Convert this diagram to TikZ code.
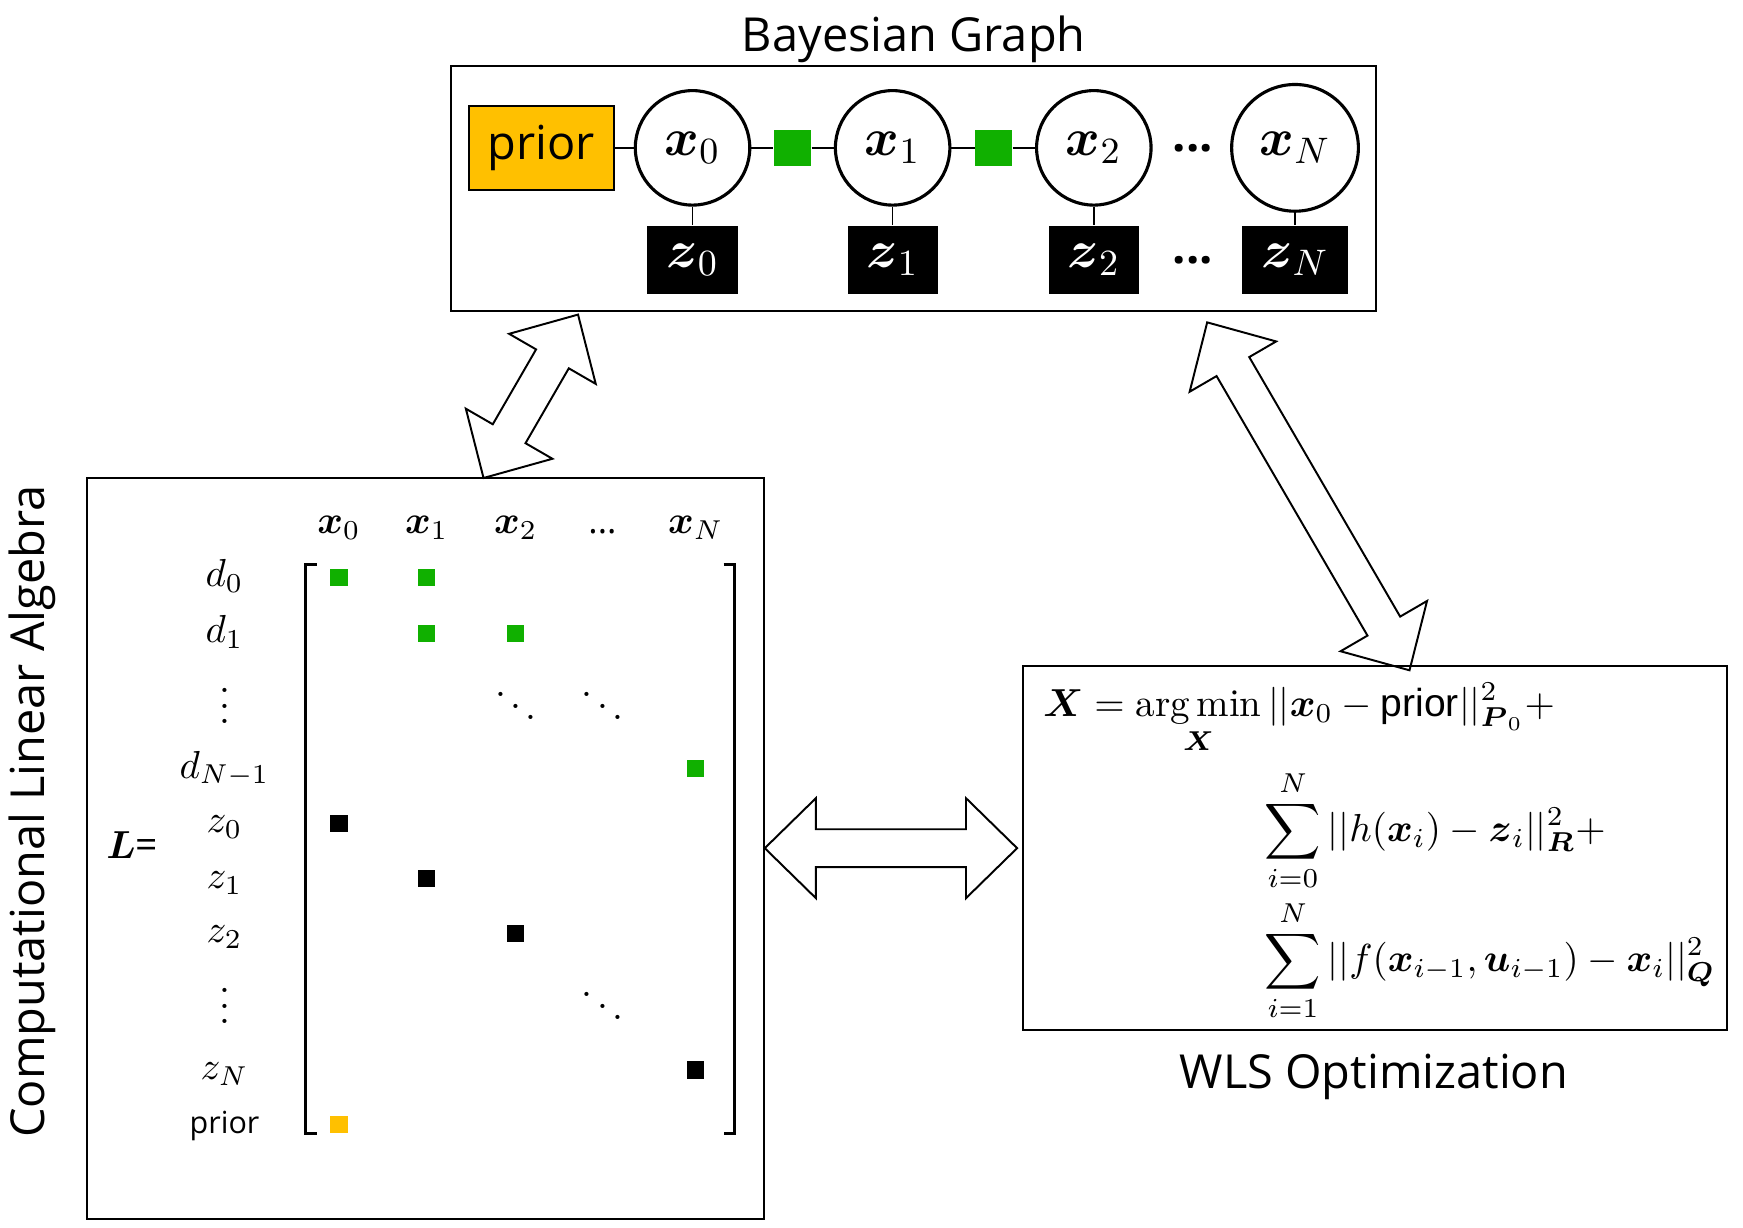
\RequirePackage{fix-cm}
\documentclass[tikz,border=0pt]{standalone}
\usepackage{amsmath}
\usepackage{amssymb}
\usepackage{fontspec}
\setsansfont{Open Sans}
\newfontfamily\eqsans{Liberation Sans}
\usepackage{xcolor}
\usetikzlibrary{calc}
\definecolor{factgreen}{RGB}{16,176,0}
\definecolor{priorgold}{RGB}{255,192,0}
\tikzset{
  panel/.style={draw, line width=0.5pt, inner sep=0pt},
  title/.style={font=\sffamily\fontsize{12}{14}\selectfont},
  var/.style={circle, draw, fill=white, line width=0.8pt, minimum size=1.03cm, inner sep=0pt, font=\fontsize{13.5}{16}\selectfont},
  meas/.style={fill=black, text=white, minimum height=0.61cm, inner xsep=0.17cm, inner ysep=0pt, font=\fontsize{13.5}{16}\selectfont},
  fac/.style={fill=factgreen, minimum size=0.33cm, inner sep=0pt},
  priorbox/.style={draw, line width=0.5pt, fill=priorgold, minimum width=1.3cm, minimum height=0.75cm, inner sep=0pt, font=\sffamily\fontsize{12}{14}\selectfont},
  gdots/.style={font=\sffamily\bfseries\fontsize{12}{14}\selectfont, inner sep=0pt},
  edge/.style={line width=0.4pt},
  lbl/.style={anchor=base, inner sep=0pt, font=\fontsize{10}{12}\selectfont},
  entry/.style={minimum size=0.155cm, inner sep=0pt, anchor=south},
  bracket/.style={line width=0.8pt},
  eqn/.style={anchor=base west, inner sep=0pt, font=\fontsize{10}{12}\selectfont},
  blockarrow/.style={draw, line width=0.5pt, line join=miter},
}

\begin{document}
\begin{tikzpicture}[x=0.1mm, y=-0.1mm]

  \useasboundingbox (0,0) rectangle (1568,1104);

  \def\headlen{0.46cm}
  \def\headwd{0.45cm}
  \def\shaftwd{0.17cm}
  \def\blockarrow#1#2{%
    \draw[blockarrow] (#1)
      -- ($(#1)!\headlen!(#2)!\headwd!90:(#2)$)
      -- ($(#1)!\headlen!(#2)!\shaftwd!90:(#2)$)
      -- ($(#2)!\headlen!(#1)!\shaftwd!-90:(#1)$)
      -- ($(#2)!\headlen!(#1)!\headwd!-90:(#1)$)
      -- (#2)
      -- ($(#2)!\headlen!(#1)!\headwd!90:(#1)$)
      -- ($(#2)!\headlen!(#1)!\shaftwd!90:(#1)$)
      -- ($(#1)!\headlen!(#2)!\shaftwd!-90:(#2)$)
      -- ($(#1)!\headlen!(#2)!\headwd!-90:(#2)$)
      -- cycle;}

  % panels and titles
  \node[panel, minimum width=8.32cm, minimum height=2.21cm] (bayes) at (822,169.5) {};
  \node[panel, minimum width=6.09cm, minimum height=6.67cm] (cla) at (382.5,763.5) {};
  \node[panel, minimum width=6.34cm, minimum height=3.28cm] (wls) at (1237,763) {};

  \node[title, anchor=base] (tbayes) at (822,46) {Bayesian Graph};
  \node[title, anchor=base] (twls) at (1236,979) {WLS Optimization};
  \node[title, anchor=base, rotate=90] (tcla) at (40,730) {Computational Linear Algebra};

  % Bayesian graph
  \node[priorbox] (prior) at (487,133) {prior};
  \node[var] (x0) at (623,133) {$\boldsymbol{x}_0$};
  \node[var] (x1) at (803,133) {$\boldsymbol{x}_1$};
  \node[var] (x2) at (984,133) {$\boldsymbol{x}_2$};
  \node[var, minimum size=1.14cm] (xN) at (1165,133) {$\boldsymbol{x}_N$};
  \node[fac] (f01) at (713,133) {};
  \node[fac] (f12) at (894,133) {};
  \node[gdots] (xdots) at (1073,133) {...};

  \node[meas] (z0) at (623,234) {$\boldsymbol{z}_0$};
  \node[meas] (z1) at (803,234) {$\boldsymbol{z}_1$};
  \node[meas] (z2) at (984,234) {$\boldsymbol{z}_2$};
  \node[meas] (zN) at (1165,234) {$\boldsymbol{z}_N$};
  \node[gdots] (zdots) at (1073,234) {...};

  \draw[edge] (prior) -- (x0) -- (f01) -- (x1) -- (f12) -- (x2);
  \draw[edge] (x0) -- (z0);
  \draw[edge] (x1) -- (z1);
  \draw[edge] (x2) -- (z2);
  \draw[edge] (xN) -- (zN);

  % linear system
  \node[lbl] (cx0) at (305,480) {$\boldsymbol{x}_0$};
  \node[lbl] (cx1) at (384,480) {$\boldsymbol{x}_1$};
  \node[lbl] (cx2) at (464,480) {$\boldsymbol{x}_2$};
  \node[lbl, font=\sffamily\fontsize{9}{11}\selectfont] (cdots) at (542,480) {...};
  \node[lbl] (cxN) at (626,480) {$\boldsymbol{x}_N$};

  \node[lbl] (rd0) at (202,528) {$d_0$};
  \node[lbl] (rd1) at (202,578) {$d_1$};
  \node[lbl] (rvd1) at (202,651) {$\vdots$};
  \node[lbl] (rdN) at (202,700) {$d_{N-1}$};
  \node[lbl] (rz0) at (202,749) {$z_0$};
  \node[lbl] (rz1) at (202,799) {$z_1$};
  \node[lbl] (rz2) at (202,848) {$z_2$};
  \node[lbl] (rvd2) at (202,921) {$\vdots$};
  \node[lbl] (rzN) at (202,971) {$z_N$};
  \node[lbl, font=\sffamily\fontsize{7.8}{9}\selectfont] (rprior) at (202,1020) {prior};
  \node[lbl, anchor=base west] (lhs) at (95,772) {$\boldsymbol{L}$\textsf{=}};

  \draw[bracket] (285,508) -- (275,508) -- (275,1020) -- (285,1020);
  \draw[bracket] (651,508) -- (661,508) -- (661,1020) -- (651,1020);

  \node[entry, fill=factgreen] (ed0a) at (305,528) {};
  \node[entry, fill=factgreen] (ed0b) at (384,528) {};
  \node[entry, fill=factgreen] (ed1a) at (384,578) {};
  \node[entry, fill=factgreen] (ed1b) at (464,578) {};
  \node[entry, fill=factgreen] (edN) at (626,700) {};
  \node[entry, fill=black] (ez0) at (305,749) {};
  \node[entry, fill=black] (ez1) at (384,799) {};
  \node[entry, fill=black] (ez2) at (464,848) {};
  \node[entry, fill=black] (ezN) at (626,971) {};
  \node[entry, fill=priorgold] (eprior) at (305,1020) {};

  \node[lbl] (dd1) at (464,651) {$\ddots$};
  \node[lbl] (dd2) at (542,651) {$\ddots$};
  \node[lbl] (dd3) at (542,921) {$\ddots$};

  % cost function
  \node[eqn] (eqa) at (938,645) {$\displaystyle \boldsymbol{X} = \operatorname*{arg\,min}_{\boldsymbol{X}} ||\boldsymbol{x}_0 - \text{\eqsans prior}||^2_{\boldsymbol{P}_0} +$};
  \node[eqn] (eqb) at (1137,757) {$\displaystyle \sum_{i=0}^{N} ||h(\boldsymbol{x}_i) - \boldsymbol{z}_i||^2_{\boldsymbol{R}} +$};
  \node[eqn] (eqc) at (1137,874) {$\displaystyle \sum_{i=1}^{N} ||f(\boldsymbol{x}_{i-1}, \boldsymbol{u}_{i-1}) - \boldsymbol{x}_i||^2_{\boldsymbol{Q}}$};

  % block arrows
  \coordinate (ab1) at (435,430);
  \coordinate (ab2) at (520,283);
  \coordinate (ah1) at (688,763);
  \coordinate (ah2) at (915,763);
  \coordinate (aw1) at (1268,603);
  \coordinate (aw2) at (1086,290);

  \blockarrow{ab1}{ab2}
  \blockarrow{ah1}{ah2}
  \blockarrow{aw1}{aw2}

\end{tikzpicture}
\end{document}
